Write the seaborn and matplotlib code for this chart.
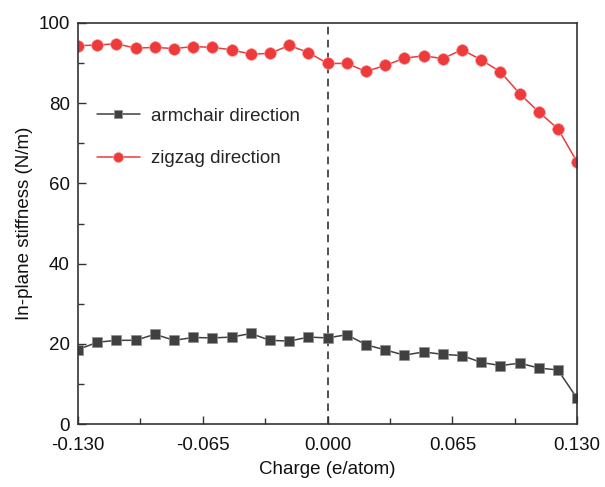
import numpy as np
import pandas as pd
import matplotlib
matplotlib.use("Agg")
import matplotlib.pyplot as plt
import seaborn as sns
from matplotlib.ticker import MultipleLocator, FixedLocator

charge = [-0.13, -0.12, -0.11, -0.10, -0.09, -0.08, -0.07, -0.06, -0.05, -0.04,
          -0.03, -0.02, -0.01, 0.00, 0.01, 0.02, 0.03, 0.04, 0.05, 0.06,
          0.07, 0.08, 0.09, 0.10, 0.11, 0.12, 0.13]
armchair = [18.6, 20.4, 20.9, 20.9, 22.4, 20.9, 21.6, 21.5, 21.7, 22.6,
            20.9, 20.7, 21.7, 21.5, 22.3, 19.8, 18.5, 17.2, 18.0, 17.4,
            17.1, 15.4, 14.6, 15.2, 14.0, 13.5, 6.4]
zigzag = [94.3, 94.5, 94.8, 93.7, 93.9, 93.6, 94.1, 93.9, 93.3, 92.2,
          92.4, 94.4, 92.6, 89.9, 89.9, 87.9, 89.4, 91.2, 91.8, 91.1,
          93.3, 90.8, 87.8, 82.4, 77.8, 73.6, 65.3]
series_names = ["armchair direction", "zigzag direction"]
xticks = [-0.130, -0.065, 0.000, 0.065, 0.130]
xticklabels = ["-0.130", "-0.065", "0.000", "0.065", "0.130"]

df_arm = pd.DataFrame({"charge": charge, "stiffness": armchair})
df_zig = pd.DataFrame({"charge": charge, "stiffness": zigzag})

sns.set_theme(style="white")
plt.rcParams["font.family"] = ["Liberation Sans", "DejaVu Sans"]

fig = plt.figure(figsize=(6.05, 4.87), dpi=100)
ax = fig.add_axes([0.129, 0.129, 0.825, 0.824])

sns.lineplot(data=df_arm, x="charge", y="stiffness", ax=ax, color="#404040",
             marker="s", markersize=7, markeredgewidth=0.5,
             markeredgecolor="#909090", linewidth=1.1, label=series_names[0])
sns.lineplot(data=df_zig, x="charge", y="stiffness", ax=ax, color="#ee3a3a",
             marker="o", markersize=8.5, markeredgewidth=0.5,
             markeredgecolor="#f6a0a0", linewidth=1.1, label=series_names[1])

ax.axvline(0.0, color="#222222", linestyle=(0, (5, 3.5)), linewidth=1.1, zorder=0)

ax.set_xlim(-0.13, 0.13)
ax.set_ylim(0, 100)
ax.xaxis.set_major_locator(FixedLocator(xticks))
ax.set_xticklabels(xticklabels)
ax.xaxis.set_minor_locator(FixedLocator([-0.0975, -0.0325, 0.0325, 0.0975]))
ax.yaxis.set_major_locator(MultipleLocator(20))
ax.yaxis.set_minor_locator(MultipleLocator(10))
ax.tick_params(which="both", direction="in", top=False, right=False,
               bottom=True, left=True, colors="#333333", labelcolor="#111111",
               labelsize=13.5)
ax.tick_params(which="major", length=6, width=1)
ax.tick_params(which="minor", length=4, width=1)
ax.tick_params(axis="x", which="major", pad=9)
ax.tick_params(axis="y", which="major", pad=6)
for s in ax.spines.values():
    s.set_color("#333333")
    s.set_linewidth(1.2)

ax.set_xlabel("Charge (e/atom)", fontsize=13.5, labelpad=5, color="#111111")
ax.set_ylabel("In-plane stiffness (N/m)", fontsize=13.5, labelpad=4, color="#111111")

leg = ax.legend(loc="upper left", bbox_to_anchor=(0.0, 0.835), frameon=False,
                fontsize=13.5, handlelength=2.3, handletextpad=0.6,
                labelspacing=1.35, borderaxespad=0.6, markerscale=0.85)

fig.savefig("out.png", dpi=100)
